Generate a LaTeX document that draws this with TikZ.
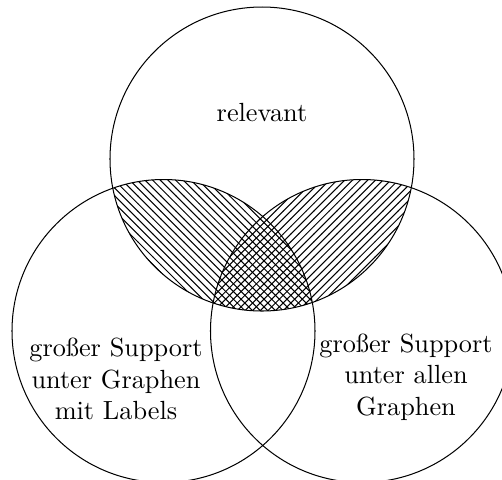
\documentclass[tikz,border=0pt]{standalone}
\usetikzlibrary{patterns}
\begin{document}
\begin{tikzpicture}[x=0.392pt,y=-0.392pt,
  venn/.style={line width=0.4pt},
  vlabel/.style={align=center,inner sep=0pt,font=\fontsize{10.3pt}{12.4pt}\selectfont}]
\useasboundingbox (0,0) rectangle (502,479);
\clip (0,0) rectangle (502,479);
\coordinate (ct) at (262,159);
\coordinate (cl) at (163.5,331);
\coordinate (cr) at (362,331);
% hatched lenses
\begin{scope}
  \clip (ct) circle[radius=152];
  \clip (cl) circle[radius=151.5];
  \fill[pattern=north west lines] (0,0) rectangle (502,479);
\end{scope}
\begin{scope}
  \clip (ct) circle[radius=152];
  \clip (cr) circle[radius=151.5];
  \fill[pattern=north east lines] (0,0) rectangle (502,479);
\end{scope}
% circles
\draw[venn] (ct) circle[radius=152];
\draw[venn] (cl) circle[radius=151.5];
\draw[venn] (cr) circle[radius=151.5];
% labels
\node[vlabel,anchor=base] (rel) at (262,121) {relevant};
\node[vlabel] (lab) at (116,379) {großer Support\\unter Graphen\\mit Labels};
\node[vlabel] (all) at (406,377) {großer Support\\unter allen\\Graphen};
\end{tikzpicture}
\end{document}
